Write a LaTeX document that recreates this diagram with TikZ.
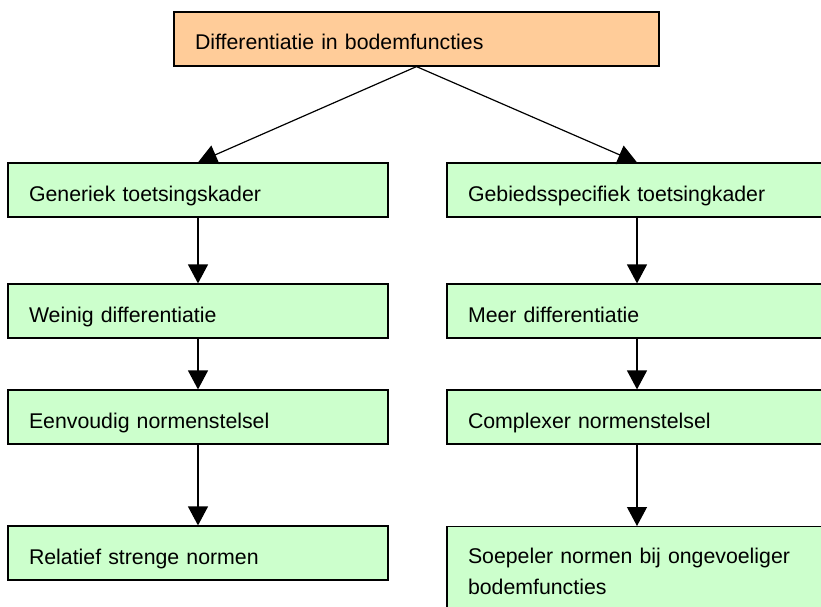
\documentclass[tikz,border=0pt]{standalone}
\usepackage{fontspec}
\setmainfont{Liberation Sans}
\usepackage{tikz}
\usetikzlibrary{arrows.meta,positioning}

\definecolor{topfill}{HTML}{FFCC99}
\definecolor{boxfill}{HTML}{CCFFCC}

\tikzset{
  box/.style={draw, line width=1.2pt, fill=boxfill, rectangle,
    minimum width=380pt, minimum height=54pt, inner xsep=21pt,
    text width=338pt, align=left, text height=22pt, text depth=0pt,
    font=\fontsize{21.3}{31}\selectfont},
  topbox/.style={box, fill=topfill, minimum width=485pt, text width=443pt},
  arr/.style={line width=1.2pt, -{Triangle[width=20pt,length=19pt]}}
}

\begin{document}
\begin{tikzpicture}[x=1pt, y=-1pt]
		\useasboundingbox (0, 0) rectangle (821, 607);
		\clip (0, 0) rectangle (821, 607);
		
		\node[topbox] (top) at (416.5, 39) {Differentiatie in bodemfuncties};
		
		\node[box] (generiek) at (198, 190) {Generiek toetsingskader};
		\node[box] (weinig) at (198, 311) {Weinig differentiatie};
		\node[box] (eenvoudig) at (198, 417) {Eenvoudig normenstelsel};
		\node[box] (relatief) at (198, 553) {Relatief strenge normen};
		
		\node[box] (gebied) at (637, 190) {Gebiedsspecifiek toetsingkader};
		\node[box] (meer) at (637, 311) {Meer differentiatie};
		\node[box] (complexer) at (637, 417) {Complexer normenstelsel};
		\node[box, anchor=north, minimum height=92pt, text depth=40pt] (soepeler) at (637, 526) {Soepeler normen bij ongevoeliger\\bodemfuncties};
		
		\draw [arr] (top.south) to (generiek.north);
		\draw [arr] (top.south) to (gebied.north);
		\draw [arr] (generiek) to (weinig);
		\draw [arr] (weinig) to (eenvoudig);
		\draw [arr] (eenvoudig) to (relatief);
		\draw [arr] (gebied) to (meer);
		\draw [arr] (meer) to (complexer);
		\draw [arr] (complexer) to (soepeler);
		\end{tikzpicture}
\end{document}
